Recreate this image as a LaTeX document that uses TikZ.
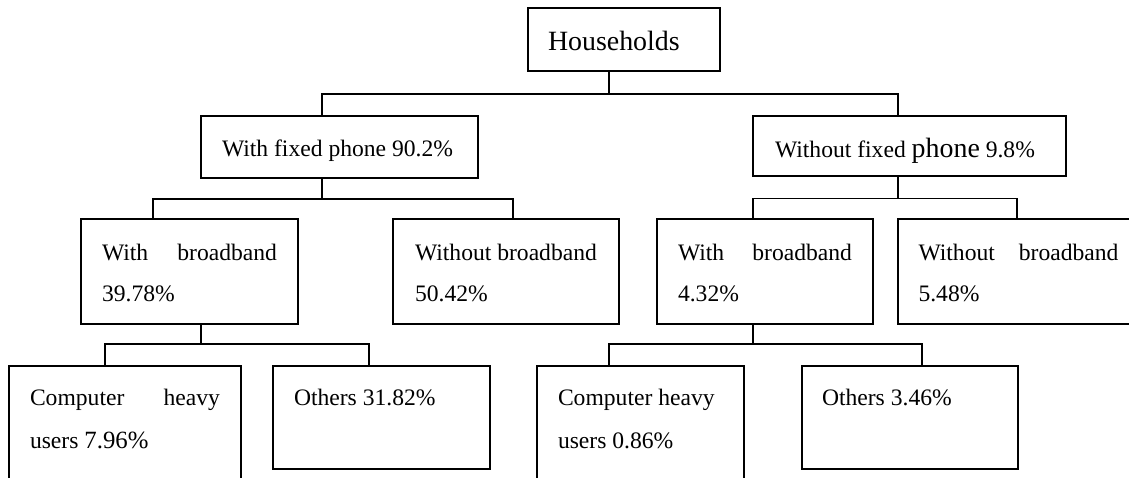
\documentclass[tikz,border=0pt]{standalone}
\usepackage{fontspec}
\setmainfont{Liberation Serif}
\usetikzlibrary{calc}
\newcommand{\bigfont}{\fontsize{13.95pt}{20pt}\selectfont}
\newcommand{\midfont}{\fontsize{12.4pt}{20pt}\selectfont}
% #1 baselineskip, #2 width, #3 height, #4 pad, #5 baseline offset, #6 text
\newcommand{\cell}[6][20.5pt]{\parbox[c][#3][t]{#2}{\fontsize{11.8pt}{#1}\selectfont
  \leftskip=#4\relax\rightskip=#4 plus 1fil\relax\parindent=0pt\parfillskip=0pt plus 1fil\relax
  \vspace*{\dimexpr#5-10pt\relax}\rule{0pt}{10pt}#6\par}}
\tikzset{
  box/.style={draw, line width=0.8pt, rectangle, anchor=north west, inner sep=0pt, outer sep=0pt},
  conn/.style={draw, line width=0.8pt}
}
\begin{document}
\begin{tikzpicture}[x=0.5pt,y=-0.5pt]
\useasboundingbox (0,0) rectangle (1129,477);
\fill[white] (0,0) rectangle (1129,477);
\clip (0,0) rectangle (1129,477);
% level 0
\node[box] (hh) at (528,8) {\cell{96pt}{31.5pt}{10pt}{21pt}{\bigfont Households}};
% level 1
\node[box] (wfp) at (201,116) {\cell{138.5pt}{31pt}{10.5pt}{20pt}{With fixed phone 90.2\%}};
\node[box] (wofp) at (753,116) {\cell{156.5pt}{30pt}{11pt}{20.5pt}{Without fixed {\bigfont phone} 9.8\%}};
% level 2
\node[box] (wbL) at (81,219) {\cell{108.5pt}{52.5pt}{10.5pt}{20.5pt}{With\hfill broadband\\39.78\%}};
\node[box] (wobL) at (393,219) {\cell{113pt}{52.5pt}{11pt}{20.5pt}{Without broadband\\50.42\%}};
\node[box] (wbR) at (657,219) {\cell{108pt}{52.5pt}{10.5pt}{20.5pt}{With\hfill broadband\\4.32\%}};
\node[box] (wobR) at (898,219) {\cell{120.5pt}{52.5pt}{10.25pt}{20.5pt}{Without\hfill broadband\\5.48\%}};
% level 3
\node[box] (chL) at (9,366) {\cell[21.5pt]{116pt}{65pt}{10.5pt}{19.5pt}{Computer\hfill heavy\\users {\midfont 7.96\%}}};
\node[box] (oL) at (273,366) {\cell[21.5pt]{108.5pt}{51.5pt}{10.5pt}{19.5pt}{Others 31.82\%}};
\node[box] (chR) at (537,366) {\cell[21.5pt]{103.5pt}{65pt}{10.5pt}{19.5pt}{Computer heavy\\users 0.86\%}};
\node[box] (oR) at (802,366) {\cell[21.5pt]{108pt}{51.5pt}{10pt}{19.5pt}{Others 3.46\%}};
% junctions
\coordinate (j1) at (609,94);
\coordinate (j2) at (322,199);
\coordinate (j3) at (898,198.5);
\coordinate (j4) at (201,344);
\coordinate (j5) at (753,344);
% connectors
\draw[conn] (j1 |- hh.south) -- (j1);
\draw[conn] ($(wfp.north west)+(121,0)$) |- (j1) -| ($(wofp.north west)+(145,0)$);
\draw[conn] (j2 |- wfp.south) -- (j2);
\draw[conn] ($(wbL.north west)+(72,0)$) |- (j2) -| ($(wobL.north west)+(120,0)$);
\draw[conn] (j3 |- wofp.south) -- (j3);
\draw[conn] ($(wbR.north west)+(96,0)$) |- (j3) -| ($(wobR.north west)+(119,0)$);
\draw[conn] (j4 |- wbL.south) -- (j4);
\draw[conn] ($(chL.north west)+(96,0)$) |- (j4) -| ($(oL.north west)+(96,0)$);
\draw[conn] (j5 |- wbR.south) -- (j5);
\draw[conn] ($(chR.north west)+(72,0)$) |- (j5) -| ($(oR.north west)+(120,0)$);
\end{tikzpicture}
\end{document}
